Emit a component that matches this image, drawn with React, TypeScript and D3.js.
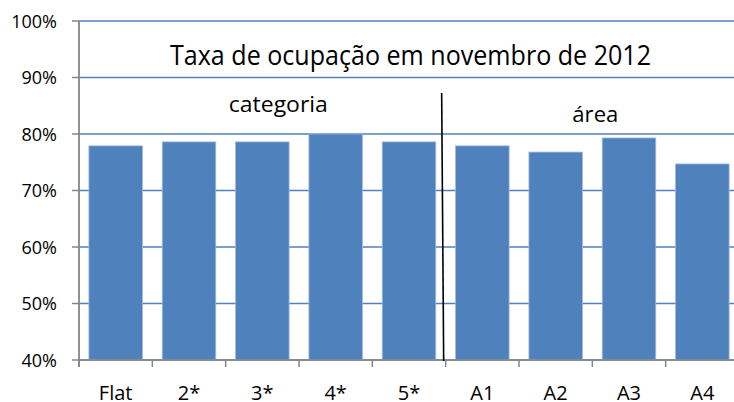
import React from "react";
import * as d3 from "d3";

const categories = ["Flat", "2*", "3*", "4*", "5*", "A1", "A2", "A3", "A4"];
const values = [0.779, 0.786, 0.786, 0.8, 0.786, 0.779, 0.768, 0.793, 0.747];
const yTicks = [0.4, 0.5, 0.6, 0.7, 0.8, 0.9, 1.0];
const title = "Taxa de ocupação em novembro de 2012";
const groupLabels = [
  { text: "categoria", from: "Flat", to: "5*" },
  { text: "área", from: "A1", to: "A4" },
];

const W = 734;
const H = 402;
const left = 79;
const right = 739;
const top = 21;
const bottom = 360;
const font = "'Open Sans', 'Noto Sans', 'DejaVu Sans', sans-serif";

export default function App() {
  const pad = 0.27;
  const x = d3
    .scaleBand<string>()
    .domain(categories)
    .range([left, right])
    .paddingInner(pad)
    .paddingOuter(pad / 2);
  const y = d3.scaleLinear().domain([0.4, 1.0]).range([bottom, top]);
  const step = x.step();
  const slotStart = (c: string) => (x(c) as number) - (step * pad) / 2;
  const sepX = slotStart("A1") - 4;

  const groupStyle: Record<string, { dx: number; y: number; len: number }> = {
    categoria: { dx: 16, y: 111.5, len: 99 },
    "área": { dx: 3, y: 121.5, len: 46 },
  };

  return (
    <svg
      width={W}
      height={H}
      style={{ position: "absolute", left: 0, top: 0, background: "#fff" }}
    >
      <rect x={0} y={0} width={W} height={H} fill="#fff" />
      {/* gridlines */}
      {yTicks.map((t) => (
        <line
          key={"g" + t}
          x1={left}
          x2={right}
          y1={y(t)}
          y2={y(t)}
          stroke="#4F81BD"
          strokeWidth={1.5}
        />
      ))}
      {/* bars */}
      {categories.map((c, i) => (
        <rect
          key={c}
          x={x(c)}
          y={y(values[i])}
          width={x.bandwidth()}
          height={bottom - y(values[i])}
          fill="#4F81BD"
          stroke="#9FBBDD"
          strokeWidth={0.8}
        />
      ))}
      {/* y axis */}
      <line x1={left} x2={left} y1={top} y2={bottom + 7} stroke="#868686" strokeWidth={1.8} />
      {yTicks.map((t) => (
        <g key={"t" + t}>
          <line x1={left - 7} x2={left} y1={y(t)} y2={y(t)} stroke="#868686" strokeWidth={1.5} />
          <text
            x={57}
            y={y(t) + 6.5}
            textAnchor="end"
            fontFamily={font}
            fontSize={18}
            fill="#000"
          >
            {Math.round(t * 100) + "%"}
          </text>
        </g>
      ))}
      {/* x axis */}
      <line x1={left} x2={right} y1={bottom} y2={bottom} stroke="#868686" strokeWidth={1.5} />
      {categories.map((c) => (
        <line
          key={"xt" + c}
          x1={slotStart(c)}
          x2={slotStart(c)}
          y1={bottom}
          y2={bottom + 7}
          stroke="#868686"
          strokeWidth={1.5}
        />
      ))}
      {categories.map((c) => (
        <text
          key={"xl" + c}
          x={(x(c) as number) + x.bandwidth() / 2}
          y={400}
          textAnchor="middle"
          fontFamily={font}
          fontSize={20}
          fill="#000"
        >
          {c}
        </text>
      ))}
      {/* separator */}
      <line x1={sepX} x2={sepX + 2} y1={93} y2={361} stroke="#000" strokeWidth={1.6} />
      {/* title */}
      <text
        x={410.5}
        y={65}
        textAnchor="middle"
        fontFamily={font}
        fontSize={27.5}
        textLength={481}
        lengthAdjust="spacingAndGlyphs"
        fill="#000"
      >
        {title}
      </text>
      {groupLabels.map((g) => {
        const cx = (slotStart(g.from) + slotStart(g.to) + step) / 2;
        const s = groupStyle[g.text];
        return (
          <text
            key={g.text}
            x={cx + s.dx}
            y={s.y}
            textAnchor="middle"
            fontFamily={font}
            fontSize={21}
            textLength={s.len}
            lengthAdjust="spacingAndGlyphs"
            fill="#000"
          >
            {g.text}
          </text>
        );
      })}
    </svg>
  );
}
